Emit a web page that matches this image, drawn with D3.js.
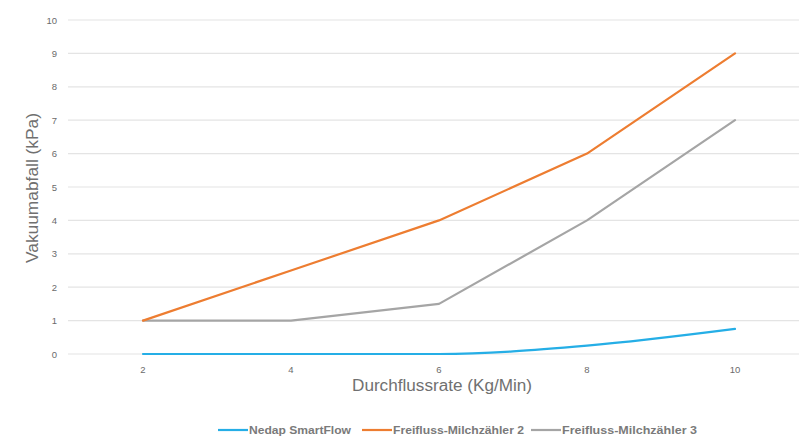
<!DOCTYPE html>
<html><head><meta charset="utf-8">
<script src="https://cdn.jsdelivr.net/npm/d3@7"></script>
<style>body{margin:0;background:#fff;} text{font-family:"Liberation Sans",Arial,sans-serif;}</style>
</head><body><svg id="c" width="799" height="443"></svg>
<script>
const categories = [2, 4, 6, 8, 10];
const nedap = [0, 0, 0, 0.25, 0.75];
const freifluss2 = [1, 2.5, 4, 6, 9];
const freifluss3 = [1, 1, 1.5, 4, 7];
const yTicks = [0,1,2,3,4,5,6,7,8,9,10];
const seriesNames = ["Nedap SmartFlow", "Freifluss-Milchzähler 2", "Freifluss-Milchzähler 3"];
const colors = ["#25aee6", "#ed7d31", "#a5a5a5"];

const svg = d3.select("#c");
const x = d3.scalePoint().domain(categories).range([69, 809]).padding(0.5);
const y = d3.scaleLinear().domain([0, 10]).range([354, 20]);

// gridlines
svg.append("g").selectAll("line").data(yTicks).join("line")
  .attr("x1", 68).attr("x2", 799)
  .attr("y1", d => y(d)).attr("y2", d => y(d))
  .attr("stroke", "#e4e4e4").attr("stroke-width", 1.2);

// y tick labels
svg.append("g").selectAll("text").data(yTicks).join("text")
  .attr("x", 57).attr("y", d => y(d) + 3.5)
  .attr("text-anchor", "end").attr("font-size", 9.5).attr("fill", "#6b6b6b")
  .text(d => d);

// x tick labels
svg.append("g").selectAll("text").data(categories).join("text")
  .attr("x", d => x(d)).attr("y", 373)
  .attr("text-anchor", "middle").attr("font-size", 9.5).attr("fill", "#6b6b6b")
  .text(d => d);

// titles
svg.append("text").attr("x", 442).attr("y", 391).attr("text-anchor", "middle")
  .attr("font-size", 16).attr("fill", "#707070")
  .attr("textLength", 180).attr("lengthAdjust", "spacingAndGlyphs")
  .text("Durchflussrate (Kg/Min)");
svg.append("text").attr("transform", "translate(38,188) rotate(-90)").attr("text-anchor", "middle")
  .attr("font-size", 16).attr("fill", "#707070")
  .attr("textLength", 150).attr("lengthAdjust", "spacingAndGlyphs")
  .text("Vakuumabfall (kPa)");

const data = [nedap, freifluss2, freifluss3];
const curves = [d3.curveMonotoneX, d3.curveLinear, d3.curveLinear];
[2, 1, 0].forEach(i => {
  const line = d3.line().x((d, j) => x(categories[j])).y(d => y(d)).curve(curves[i]);
  svg.append("path").datum(data[i]).attr("d", line)
    .attr("fill", "none").attr("stroke", colors[i]).attr("stroke-width", 2.2)
    .attr("stroke-linejoin", "round").attr("stroke-linecap", "round");
});

// legend
const legX = [218, 362, 531];
const legW = [102, 131, 135];
seriesNames.forEach((n, i) => {
  const g = svg.append("g").attr("transform", `translate(${legX[i]},430)`);
  g.append("line").attr("x1", 0).attr("x2", 30).attr("y1", 0).attr("y2", 0)
    .attr("stroke", colors[i]).attr("stroke-width", 2.2);
  g.append("text").attr("x", 31).attr("y", 4).attr("font-size", 11).attr("font-weight", "bold")
    .attr("fill", "#7a7a7a")
    .attr("textLength", legW[i]).attr("lengthAdjust", "spacingAndGlyphs")
    .text(n);
});
</script></body></html>
